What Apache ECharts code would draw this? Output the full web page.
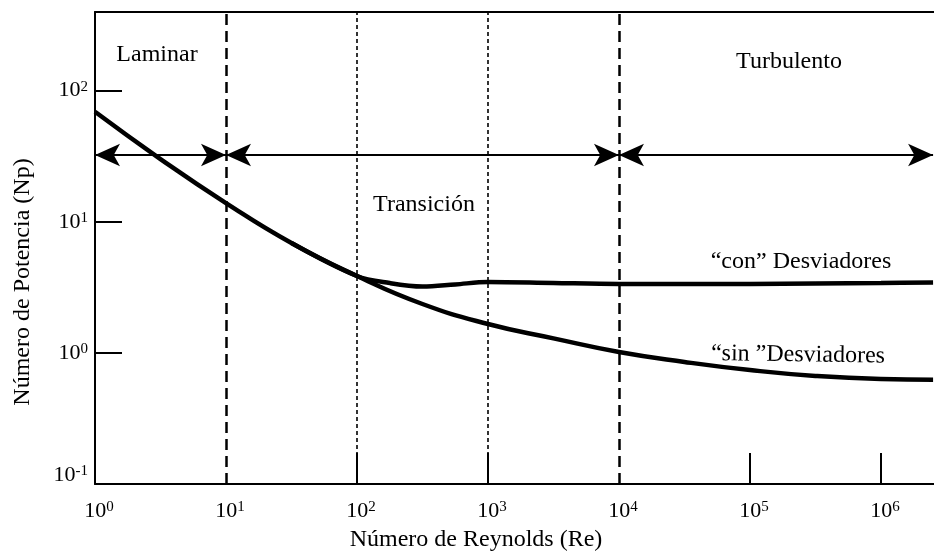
<!DOCTYPE html>
<html>
<head>
<meta charset="utf-8">
<script src="https://cdn.jsdelivr.net/npm/echarts@6/dist/echarts.min.js"></script>
<style>
  html, body { margin: 0; padding: 0; background: #fff; }
  #chart { width: 934px; height: 554px; }
</style>
</head>
<body>
<div id="chart"></div>
<script>
// Power number vs. Reynolds number for a stirred tank, log-log scales.

// "sin" Desviadores (unbaffled tank), sampled every half decade of Re
const reSin = [1, 3.16, 10, 31.6, 100, 316, 1000, 3162, 10000, 31623, 100000, 316228, 1000000, 2500000];
const npSin = [69, 30.1, 13.9, 6.89, 3.86, 2.36, 1.66, 1.29, 1.016, 0.853, 0.74, 0.667, 0.632, 0.625];

// "con" Desviadores (baffled tank) – leaves the common curve near Re = 100
const reCon = [31.6, 100, 178, 316, 562, 1000, 3162, 10000, 31623, 100000, 316228, 1000000, 2500000];
const npCon = [6.89, 3.86, 3.41, 3.21, 3.33, 3.47, 3.41, 3.36, 3.36, 3.36, 3.38, 3.41, 3.44];

// Regime boundaries
const boundariesMain = [10, 10000];   // Laminar | Transición | Turbulento
const boundariesMinor = [100, 1000];  // inner transition guides

// Arrow spans for each regime and the Np level they sit at
const regimeSpans = [[1, 10], [10, 10000], [10000, 2500000]];
const arrowLevel = 32.3;

// Axis tick and label values
const xTickValues = [100, 1000, 100000, 1000000];
const xLabelValues = [1, 10, 100, 1000, 10000, 100000, 1000000];
const yTickValues = [1, 10, 100];
const yLabelValues = [0.1, 1, 10, 100];

const X_MIN = 1, X_MAX = Math.pow(10, 6.405);
const Y_MIN = 0.1, Y_MAX = Math.pow(10, 2.6);

const FONT = '"Liberation Serif", "Times New Roman", serif';

const expOf = v => Math.round(Math.log10(v));

const supRich = {
  b: { fontSize: 22, fontFamily: FONT, color: '#000' },
  s: { fontSize: 15, fontFamily: FONT, color: '#000', verticalAlign: 'top' },
  p: { fontSize: 15, fontFamily: FONT, width: 8 },
  bl: { fontSize: 22, fontFamily: FONT, color: '#000', padding: [0, 0, 18, 0] },
  sl: { fontSize: 15, fontFamily: FONT, color: '#000', verticalAlign: 'top' }
};

const zip = (xs, ys) => xs.map((x, i) => [x, ys[i]]);

const chart = echarts.init(document.getElementById('chart'), null, { renderer: 'canvas' });

const option = {
  animation: false,
  backgroundColor: '#fff',
  textStyle: { fontFamily: FONT },
  grid: { left: 95, right: 0, top: 12, bottom: 70 },
  xAxis: [
    {
      type: 'log', logBase: 10, min: X_MIN, max: X_MAX,
      axisLine: { show: true, onZero: false, lineStyle: { color: '#000', width: 2 } },
      axisTick: { show: true, inside: true, length: 31, customValues: xTickValues,
                  lineStyle: { color: '#000', width: 2 } },
      axisLabel: {
        customValues: xLabelValues, margin: 16,
        formatter: v => '{p| }{b|10}{s|' + expOf(v) + '}',
        rich: supRich
      },
      splitLine: { show: false }
    },
    {
      type: 'log', logBase: 10, min: X_MIN, max: X_MAX, position: 'top',
      axisLine: { show: true, onZero: false, lineStyle: { color: '#000', width: 2 } },
      axisTick: { show: false }, axisLabel: { show: false }, splitLine: { show: false }
    }
  ],
  yAxis: {
    type: 'log', logBase: 10, min: Y_MIN, max: Y_MAX,
    axisLine: { show: true, onZero: false, lineStyle: { color: '#000', width: 2 } },
    axisTick: { show: true, inside: true, length: 27, customValues: yTickValues,
                lineStyle: { color: '#000', width: 2 } },
    axisLabel: {
      customValues: yLabelValues, margin: 7,
      formatter: v => {
        const e = expOf(v);
        return e < 0 ? '{bl|10}{sl|' + e + '}' : '{b|10}{s|' + e + '}';
      },
      rich: supRich
    },
    splitLine: { show: false }
  },
  series: [
    {
      name: 'sin', type: 'line', data: zip(reSin, npSin),
      smooth: 0.5, symbol: 'none', silent: true, z: 5,
      lineStyle: { color: '#000', width: 4.5 },
      markLine: {
        silent: true, symbol: 'none', animation: false,
        label: { show: false },
        data: [
          ...boundariesMain.map(v => ({ xAxis: v, lineStyle: { color: '#000', width: 2.5, type: [11, 6] } })),
          ...boundariesMinor.map(v => ({ xAxis: v, lineStyle: { color: '#000', width: 1.6, type: [4, 3] } }))
        ]
      }
    },
    {
      name: 'con', type: 'line', data: zip(reCon, npCon),
      smooth: 0.35, symbol: 'none', silent: true, z: 5,
      lineStyle: { color: '#000', width: 4.5 },
      markLine: {
        silent: true, animation: false,
        symbol: ['arrow', 'arrow'],
        symbolSize: [17, 25],
        label: { show: false },
        lineStyle: { color: '#000', width: 2, type: 'solid' },
        itemStyle: { color: '#000' },
        data: regimeSpans.map(([a, b]) => [{ coord: [a, arrowLevel] }, { coord: [b, arrowLevel] }])
      }
    }
  ],
  graphic: [
    { type: 'text', x: 157, y: 55, style: { text: 'Laminar', font: '24px ' + FONT, fill: '#000', align: 'center', verticalAlign: 'middle' } },
    { type: 'text', x: 424, y: 205, style: { text: 'Transición', font: '24px ' + FONT, fill: '#000', align: 'center', verticalAlign: 'middle' } },
    { type: 'text', x: 789, y: 62, style: { text: 'Turbulento', font: '24px ' + FONT, fill: '#000', align: 'center', verticalAlign: 'middle' } },
    { type: 'text', x: 801, y: 262, style: { text: '\u201Ccon\u201D Desviadores', font: '24px ' + FONT, fill: '#000', align: 'center', verticalAlign: 'middle' } },
    { type: 'text', x: 798, y: 355, rotation: -0.015, style: { text: '\u201Csin \u201DDesviadores', font: '24px ' + FONT, fill: '#000', align: 'center', verticalAlign: 'middle' } },
    { type: 'text', x: 476, y: 540, style: { text: 'Número de Reynolds (Re)', font: '24px ' + FONT, fill: '#000', align: 'center', verticalAlign: 'middle' } },
    { type: 'text', x: 23, y: 282, rotation: Math.PI / 2, style: { text: 'Número de Potencia (Np)', font: '24px ' + FONT, fill: '#000', align: 'center', verticalAlign: 'middle' } }
  ]
};

chart.setOption(option);
</script>
</body>
</html>
